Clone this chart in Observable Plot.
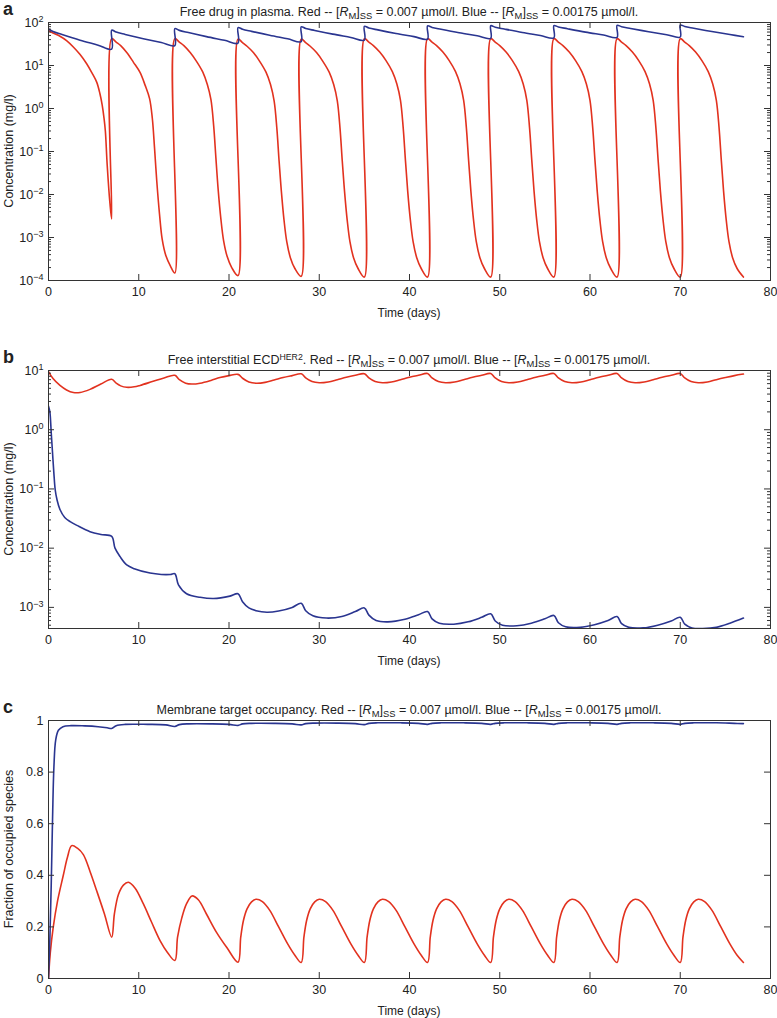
<!DOCTYPE html>
<html>
<head>
<meta charset="utf-8">
<script src="https://cdn.jsdelivr.net/npm/d3@7"></script>
<script src="https://cdn.jsdelivr.net/npm/@observablehq/plot@0.6"></script>
<style>
  body { margin: 0; background: #fff; }
  #root { position: relative; width: 777px; height: 1018px; font-family: "Liberation Sans", Arial, Helvetica, sans-serif; color: #222; overflow: hidden; }
  .svgwrap { position: absolute; left: 0; }
  .title { position: absolute; left: 48px; width: 722px; text-align: center; font-size: 12.5px; white-space: nowrap; line-height: 14px; }
  .title sub { font-size: 0.75em; vertical-align: -0.3em; line-height: 0; }
  .title sup { font-size: 0.7em; vertical-align: 0.5em; line-height: 0; }
  .letter { position: absolute; left: 3px; font-weight: bold; font-size: 18px; line-height: 18px; }
  .xlabel { position: absolute; left: 48px; width: 722px; text-align: center; font-size: 12px; line-height: 14px; }
  .ylabel { position: absolute; width: 300px; text-align: center; font-size: 12.5px; line-height: 14px; transform: rotate(-90deg); }
</style>
</head>
<body>
<div id="root"></div>
<script>
// ---------------- data ----------------
const days = [0, 10, 20, 30, 40, 50, 60, 70, 80];

// Panel a: free drug in plasma (mg/l) — [time (days), concentration]
const plasmaRed = [
  [0,65],[0.5,57],[1.27,48],[2,38],[2.75,27],[3.5,18],[4.23,11],[4.8,6.8],[5.34,4.1],[5.7,2.2],[5.95,1.2],[6.15,0.6],[6.3,0.3],[6.5,0.05],[6.8,0.0065],[7,0.0027],
  [7,42],[7.5,35],[8,29],[8.67,20],[9.4,12],[10.14,6.9],[10.7,3.5],[11.2,1.7],[11.5,0.6],[11.75,0.12],[12,0.02],[12.3,0.0035],[12.6,0.0009],[13,0.00038],[13.5,0.00022],[14,0.00015],
  [14,42],[14.5,35],[15,29],[15.7,20],[16.4,12.5],[17.1,7],[17.6,3.6],[18,1.6],[18.3,0.4],[18.55,0.07],[18.8,0.013],[19.1,0.0027],[19.4,0.00085],[19.8,0.00036],[20.3,0.0002],[21,0.00013],
  [21,41],[21.5,34],[22,28],[22.7,20],[23.4,12.5],[24.1,7],[24.6,3.6],[25,1.5],[25.3,0.35],[25.55,0.06],[25.8,0.012],[26.1,0.0025],[26.4,0.0008],[26.8,0.00034],[27.3,0.00019],[28,0.000125],
  [28,41],[28.5,34],[29,28],[29.7,20],[30.4,12.5],[31.1,7],[31.6,3.6],[32,1.5],[32.3,0.35],[32.55,0.06],[32.8,0.012],[33.1,0.0025],[33.4,0.0008],[33.8,0.00034],[34.3,0.00019],[35,0.00012],
  [35,42],[35.5,35],[36,29],[36.7,20.5],[37.4,13],[38.1,7.2],[38.6,3.7],[39,1.55],[39.3,0.36],[39.55,0.062],[39.8,0.012],[40.1,0.0025],[40.4,0.0008],[40.8,0.00034],[41.3,0.00019],[42,0.00012],
  [42,42],[42.5,35],[43,29],[43.7,20.5],[44.4,13],[45.1,7.2],[45.6,3.7],[46,1.55],[46.3,0.36],[46.55,0.062],[46.8,0.012],[47.1,0.0025],[47.4,0.0008],[47.8,0.00034],[48.3,0.00019],[49,0.00012],
  [49,42],[49.5,35],[50,29],[50.7,20.5],[51.4,13],[52.1,7.2],[52.6,3.7],[53,1.55],[53.3,0.36],[53.55,0.062],[53.8,0.012],[54.1,0.0025],[54.4,0.0008],[54.8,0.00034],[55.3,0.00019],[56,0.00012],
  [56,42],[56.5,35],[57,29],[57.7,20.5],[58.4,13],[59.1,7.2],[59.6,3.7],[60,1.55],[60.3,0.36],[60.55,0.062],[60.8,0.012],[61.1,0.0025],[61.4,0.0008],[61.8,0.00034],[62.3,0.00019],[63,0.00012],
  [63,42],[63.5,35],[64,29],[64.7,20.5],[65.4,13],[66.1,7.2],[66.6,3.7],[67,1.55],[67.3,0.36],[67.55,0.062],[67.8,0.012],[68.1,0.0025],[68.4,0.0008],[68.8,0.00034],[69.3,0.00019],[70,0.00012],
  [70,42],[70.5,35],[71,29],[71.7,20.5],[72.4,13],[73.1,7.2],[73.6,3.7],[74,1.55],[74.3,0.36],[74.55,0.062],[74.8,0.012],[75.1,0.0025],[75.4,0.0008],[75.8,0.00034],[76.3,0.00019],[77,0.00012]
];
const plasmaBlue = [
  [0,71],[0.5,61.5],[1.5,52.4],[3.5,38.8],[5.5,29.7],[7,24],
  [7,66],[7.5,59.8],[8.5,52.8],[10.5,42.1],[12.5,34.2],[14,29],
  [14,72],[14.5,65.6],[15.5,58.3],[17.5,46.9],[19.5,38.6],[21,33],
  [21,76],[21.5,69.5],[22.5,62.1],[24.5,50.4],[26.5,41.8],[28,36],
  [28,79],[28.5,72.6],[29.5,65.3],[31.5,53.6],[33.5,44.9],[35,39],
  [35,81],[35.5,74.6],[36.5,67.3],[38.5,55.7],[40.5,47],[42,41],
  [42,83],[42.5,76.7],[43.5,69.5],[45.5,57.8],[47.5,49],[49,43],
  [49,84],[49.5,77.6],[50.5,70.5],[52.5,58.7],[54.5,50],[56,44],
  [56,85],[56.5,78.7],[57.5,71.6],[59.5,59.8],[61.5,51.1],[63,45],
  [63,86],[63.5,79.8],[64.5,72.6],[66.5,61],[68.5,52.1],[70,46],
  [70,87],[70.5,80.7],[71.5,73.5],[73.5,61.7],[75.5,52.7],[77,46.5]
];

// Panel b: free interstitial ECD-HER2 (mg/l)
const ecdRed = [
  [0,9.6],[0.5,7.3],[1.27,5.6],[2,4.7],[2.75,4.25],[3.5,4.25],[4.6,4.8],[5.8,5.9],[7,7.1],
  [7.5,6.1],[8,5.5],[8.67,5.2],[9.5,5.3],[10.14,5.6],[11.5,6.5],[12.8,7.5],[14,8.3],
  [14.5,7.0],[15.2,6.1],[15.9,5.9],[16.8,6.1],[18,6.8],[19,7.6],[20,8.2],[21,8.6],
  [21.5,7.4],[22.2,6.4],[23,6.1],[24,6.3],[25,6.9],[26,7.6],[27,8.2],[28,8.8],
  [28.5,7.5],[29.2,6.5],[30,6.2],[31,6.4],[32,7.0],[33,7.7],[34,8.3],[35,8.8],
  [35.5,7.5],[36.2,6.5],[37,6.2],[38,6.4],[39,7.0],[40,7.7],[41,8.3],[42,8.9],
  [42.5,7.5],[43.2,6.5],[44,6.2],[45,6.4],[46,7.0],[47,7.7],[48,8.3],[49,8.9],
  [49.5,7.5],[50.2,6.5],[51,6.2],[52,6.4],[53,7.0],[54,7.7],[55,8.3],[56,8.9],
  [56.5,7.5],[57.2,6.5],[58,6.2],[59,6.4],[60,7.0],[61,7.7],[62,8.3],[63,8.9],
  [63.5,7.5],[64.2,6.5],[65,6.2],[66,6.4],[67,7.0],[68,7.7],[69,8.3],[70,8.9],
  [70.5,7.5],[71.2,6.5],[72,6.2],[73,6.4],[74,7.0],[75,7.6],[76,8.2],[77,8.7]
];
const ecdBlue = [
  [0,2.5],[0.15,2.0],[0.3,0.9],[0.45,0.4],[0.6,0.18],[0.75,0.095],[0.95,0.065],[1.27,0.045],[1.8,0.033],[2.4,0.028],[3.2,0.024],[4.6,0.019],[5.8,0.017],[7,0.0158],
  [7.37,0.01],[7.93,0.0072],[8.67,0.0052],[9.5,0.0045],[11.25,0.0038],[12.5,0.0036],[13.5,0.0036],[14,0.0037],
  [14.4,0.0024],[15.3,0.0017],[16.8,0.00148],[18.3,0.00141],[20.1,0.00155],[21,0.0017],
  [21.5,0.00125],[22.2,0.00098],[23,0.00088],[24.2,0.00083],[25.5,0.00087],[27,0.001],[28,0.00117],
  [28.5,0.00088],[29.3,0.00072],[30.8,0.00066],[32.5,0.0007],[34,0.00085],[35,0.00098],
  [35.5,0.00074],[36.3,0.0006],[37.6,0.00057],[39.5,0.00063],[41,0.00075],[42,0.00085],
  [42.5,0.00064],[43.3,0.00054],[44.9,0.00052],[46.5,0.00057],[48,0.00068],[49,0.00078],
  [49.5,0.00059],[50.3,0.0005],[51.9,0.00049],[53.5,0.00054],[55,0.00064],[56,0.00073],
  [56.5,0.00055],[57.3,0.00047],[58.9,0.00046],[60.5,0.00051],[62,0.0006],[63,0.0007],
  [63.5,0.00053],[64.3,0.00046],[65.9,0.00045],[67.5,0.0005],[69,0.00059],[70,0.00068],
  [70.5,0.00052],[71.3,0.00045],[72.5,0.00044],[74,0.00046],[75.5,0.00054],[77,0.00066]
];

// Panel c: membrane target occupancy (fraction)
const occRed = [
  [0,0],[0.2,0.1],[0.53,0.2],[1,0.3],[1.64,0.4],[2.1,0.47],[2.57,0.515],[3.2,0.505],[3.86,0.48],[4.6,0.415],[5.34,0.34],[6.2,0.25],[7,0.16],
  [7.3,0.25],[7.74,0.325],[8.3,0.362],[8.85,0.373],[9.6,0.35],[10.5,0.29],[11.4,0.22],[12.36,0.147],[13.2,0.1],[14,0.07],
  [14.3,0.16],[14.77,0.235],[15.3,0.29],[15.9,0.32],[16.6,0.305],[17.5,0.25],[18.6,0.18],[19.76,0.12],[21,0.063],
  [21.3,0.16],[21.6,0.225],[22,0.27],[22.5,0.297],[23,0.307],[23.7,0.298],[24.5,0.265],[25.5,0.2],[26.5,0.134],[27.3,0.09],[28,0.062],
  [28.3,0.16],[28.6,0.225],[29,0.27],[29.5,0.297],[30,0.307],[30.7,0.298],[31.5,0.265],[32.5,0.2],[33.5,0.134],[34.3,0.09],[35,0.062],
  [35.3,0.16],[35.6,0.225],[36,0.27],[36.5,0.297],[37,0.307],[37.7,0.298],[38.5,0.265],[39.5,0.2],[40.5,0.134],[41.3,0.09],[42,0.062],
  [42.3,0.16],[42.6,0.225],[43,0.27],[43.5,0.297],[44,0.307],[44.7,0.298],[45.5,0.265],[46.5,0.2],[47.5,0.134],[48.3,0.09],[49,0.062],
  [49.3,0.16],[49.6,0.225],[50,0.27],[50.5,0.297],[51,0.307],[51.7,0.298],[52.5,0.265],[53.5,0.2],[54.5,0.134],[55.3,0.09],[56,0.062],
  [56.3,0.16],[56.6,0.225],[57,0.27],[57.5,0.297],[58,0.307],[58.7,0.298],[59.5,0.265],[60.5,0.2],[61.5,0.134],[62.3,0.09],[63,0.062],
  [63.3,0.16],[63.6,0.225],[64,0.27],[64.5,0.297],[65,0.307],[65.7,0.298],[66.5,0.265],[67.5,0.2],[68.5,0.134],[69.3,0.09],[70,0.062],
  [70.3,0.16],[70.6,0.225],[71,0.27],[71.5,0.297],[72,0.307],[72.7,0.298],[73.5,0.265],[74.5,0.2],[75.5,0.134],[76.3,0.09],[77,0.062]
];
const occBlue = [
  [0,0],[0.15,0.15],[0.3,0.36],[0.45,0.62],[0.6,0.82],[0.8,0.925],[1.1,0.962],[1.6,0.976],[2.5,0.98],[4,0.979],[5.5,0.976],[6.5,0.972],[7,0.969],
  [7.5,0.98],[8.5,0.985],[11,0.985],[13,0.983],[14,0.977],
  [14.5,0.984],[15.5,0.987],[18,0.987],[20,0.985],[21,0.981],
  [21.5,0.987],[22.5,0.989],[25,0.989],[27,0.987],[28,0.983],
  [28.5,0.988],[29.5,0.99],[32,0.99],[34,0.988],[35,0.984],
  [35.5,0.989],[36.5,0.991],[39,0.991],[41,0.989],[42,0.985],
  [42.5,0.989],[43.5,0.991],[46,0.991],[48,0.989],[49,0.985],
  [49.5,0.989],[50.5,0.991],[53,0.991],[55,0.989],[56,0.985],
  [56.5,0.989],[57.5,0.991],[60,0.991],[62,0.989],[63,0.985],
  [63.5,0.989],[64.5,0.991],[67,0.991],[69,0.989],[70,0.985],
  [70.5,0.989],[71.5,0.991],[74,0.991],[76,0.989],[77,0.988]
];

// axis tick values
const xInnerTicks = [10, 20, 30, 40, 50, 60, 70];
const logTicksA = [1e-4, 1e-3, 1e-2, 1e-1, 1, 10, 100];
const logTicksB = [1e-3, 1e-2, 1e-1, 1, 10];
const occTicks = [0, 0.2, 0.4, 0.6, 0.8, 1];

const titleA = 'Free drug in plasma. Red -- [<i>R</i><sub>M</sub>]<sub>SS</sub> = 0.007 µmol/l. Blue -- [<i>R</i><sub>M</sub>]<sub>SS</sub> = 0.00175 µmol/l.';
const titleB = 'Free interstitial ECD<sup>HER2</sup>. Red -- [<i>R</i><sub>M</sub>]<sub>SS</sub> = 0.007 µmol/l. Blue -- [<i>R</i><sub>M</sub>]<sub>SS</sub> = 0.00175 µmol/l.';
const titleC = 'Membrane target occupancy. Red -- [<i>R</i><sub>M</sub>]<sub>SS</sub> = 0.007 µmol/l. Blue -- [<i>R</i><sub>M</sub>]<sub>SS</sub> = 0.00175 µmol/l.';

// ---------------- drawing ----------------
const RED = "#e2321f";
const BLUE = "#2a3590";
const AXIS = "#333";
const W = 777, ML = 48, MR = 7, MT = 6, MB = 30, H = 258;
const PW = W - ML - MR;

function minorLog(lo, hi) {
  const out = [];
  for (let k = Math.floor(Math.log10(lo)); k <= Math.ceil(Math.log10(hi)); k++) {
    for (let m = 2; m <= 9; m++) {
      const v = m * Math.pow(10, k);
      if (v >= lo && v <= hi) out.push(v);
    }
  }
  return out;
}

function makePanel(cfg) {
  const pt = d => d;
  const marks = [
    Plot.line(cfg.red, {x: d => d[0], y: d => d[1], stroke: RED, strokeWidth: 1.6, curve: "catmull-rom", clip: true}),
    Plot.line(cfg.blue, {x: d => d[0], y: d => d[1], stroke: BLUE, strokeWidth: 1.6, curve: "catmull-rom", clip: true}),
    Plot.frame({stroke: AXIS, strokeWidth: 1}),
    Plot.tickX(xInnerTicks, {x: pt, insetTop: H - 6, stroke: AXIS}),
    Plot.tickX(xInnerTicks, {x: pt, insetBottom: H - 6, stroke: AXIS}),
    Plot.tickY(cfg.yMajor, {y: pt, insetRight: PW - 6, stroke: AXIS}),
    Plot.tickY(cfg.yMajor, {y: pt, insetLeft: PW - 6, stroke: AXIS}),
    Plot.axisX({ticks: days, tickSize: 0, tickPadding: 7, fontSize: 12.5, label: null, tickFormat: d => String(d)}),
    Plot.axisY({ticks: cfg.yMajor, tickSize: 0, tickPadding: 5, fontSize: 12.5, label: null, tickFormat: cfg.fmt})
  ];
  if (cfg.yMinor) {
    marks.push(Plot.tickY(cfg.yMinor, {y: pt, insetRight: PW - 3, stroke: AXIS}));
    marks.push(Plot.tickY(cfg.yMinor, {y: pt, insetLeft: PW - 3, stroke: AXIS}));
  }
  const svg = Plot.plot({
    width: W, height: MT + H + MB,
    marginLeft: ML, marginRight: MR, marginTop: MT, marginBottom: MB,
    style: {fontFamily: '"Liberation Sans", Arial, Helvetica, sans-serif', fontSize: "12.5px", color: "#222", background: "transparent", overflow: "visible"},
    x: {domain: [0, 80], label: null},
    y: {type: cfg.yType, domain: cfg.yDomain, label: null},
    marks
  });
  // superscript exponents on log tick labels
  svg.querySelectorAll("text").forEach(t => {
    const m = /^10\^(.+)$/.exec(t.textContent);
    if (m) {
      t.textContent = "";
      const base = document.createElementNS("http://www.w3.org/2000/svg", "tspan");
      base.textContent = "10";
      const sup = document.createElementNS("http://www.w3.org/2000/svg", "tspan");
      sup.textContent = m[1].replace("-", "\u2212");
      sup.setAttribute("dy", "-0.5em");
      sup.setAttribute("font-size", "9px");
      t.appendChild(base);
      t.appendChild(sup);
    }
  });
  return svg;
}

const logFmt = d => "10^" + Math.round(Math.log10(d));
const panels = [
  {top: 22, letter: "a", title: titleA, ylabel: "Concentration (mg/l)", red: plasmaRed, blue: plasmaBlue,
   yType: "log", yDomain: [1e-4, 1e2], yMajor: logTicksA, yMinor: minorLog(1e-4, 1e2), fmt: logFmt},
  {top: 370, letter: "b", title: titleB, ylabel: "Concentration (mg/l)", red: ecdRed, blue: ecdBlue,
   yType: "log", yDomain: [4.4e-4, 10], yMajor: logTicksB, yMinor: minorLog(4.4e-4, 10), fmt: logFmt},
  {top: 720, letter: "c", title: titleC, ylabel: "Fraction of occupied species", red: occRed, blue: occBlue,
   yType: "linear", yDomain: [0, 1], yMajor: occTicks, yMinor: null, fmt: d => String(d)}
];

const root = document.getElementById("root");
for (const p of panels) {
  const wrap = document.createElement("div");
  wrap.className = "svgwrap";
  wrap.style.top = (p.top - MT) + "px";
  wrap.appendChild(makePanel(p));
  root.appendChild(wrap);

  const title = document.createElement("div");
  title.className = "title";
  title.style.top = (p.top - 17) + "px";
  title.innerHTML = p.title;
  root.appendChild(title);

  const letter = document.createElement("div");
  letter.className = "letter";
  letter.style.top = (p.top - 22) + "px";
  letter.textContent = p.letter;
  root.appendChild(letter);

  const xl = document.createElement("div");
  xl.className = "xlabel";
  xl.style.top = (p.top + H + 26) + "px";
  xl.textContent = "Time (days)";
  root.appendChild(xl);

  const yl = document.createElement("div");
  yl.className = "ylabel";
  yl.style.left = (9 - 150) + "px";
  yl.style.top = (p.top + H / 2 - 7) + "px";
  yl.textContent = p.ylabel;
  root.appendChild(yl);
}
</script>
</body>
</html>
